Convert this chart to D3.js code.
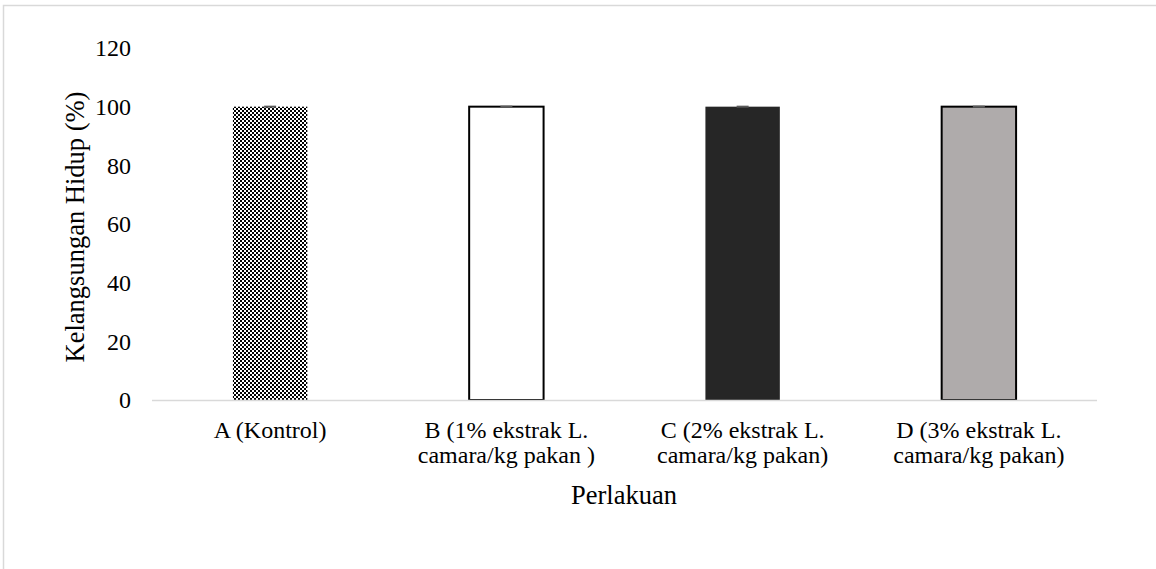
<!DOCTYPE html>
<html><head><meta charset="utf-8">
<script src="https://cdn.jsdelivr.net/npm/d3@7"></script>
<style>body{margin:0;background:#fff}svg{display:block}</style>
</head><body><svg id="c" width="1156" height="569"></svg>
<script>
const categories = ["A (Kontrol)", "B (1% ekstrak L.|camara/kg pakan )", "C (2% ekstrak L.|camara/kg pakan)", "D (3% ekstrak L.|camara/kg pakan)"];
const values = [100, 100, 100, 100];
const errors = [0, 0, 0, 0];
const yTicks = [0, 20, 40, 60, 80, 100, 120];
const fills = ["url(#checker)", "#ffffff", "#262626", "#afabab"];
const strokes = ["none", "#000", "none", "#000"];
const FONT = '"Liberation Serif"';
const FS = 24;
const TFS = 26.5;

const svg = d3.select("#c");
const defs = svg.append("defs");
const pat = defs.append("pattern").attr("id","checker").attr("width",4).attr("height",4).attr("patternUnits","userSpaceOnUse");
pat.append("rect").attr("width",4).attr("height",4).attr("fill","#fff");
pat.append("rect").attr("x",0).attr("y",0).attr("width",2).attr("height",2).attr("fill","#000");
pat.append("rect").attr("x",2).attr("y",2).attr("width",2).attr("height",2).attr("fill","#000");

svg.append("rect").attr("x",3.5).attr("y",5.5).attr("width",1200).attr("height",700)
  .attr("fill","none").attr("stroke","#d9d9d9").attr("stroke-width",1.5);

const x = d3.scaleBand().domain(categories).range([152, 1097]).paddingInner(0.685).paddingOuter(0.3425);
const y = d3.scaleLinear().domain([0, 120]).range([400, 48]);

const ya = svg.append("g").attr("transform","translate(131,0)")
  .call(d3.axisLeft(y).tickValues(yTicks).tickSize(0).tickPadding(0));
ya.attr("font-family", null).attr("font-size", null);
ya.select(".domain").remove();
ya.selectAll("text").style("font-family",FONT).style("font-size",FS+"px").attr("fill","#000").attr("dy","0.33em");

svg.selectAll("rect.bar").data(categories).join("rect").attr("class","bar")
  .attr("x", d => x(d)).attr("width", x.bandwidth())
  .attr("y", (d,i) => y(values[i])).attr("height", (d,i) => y(0) - y(values[i]))
  .attr("fill", (d,i) => fills[i]).attr("stroke", (d,i) => strokes[i]).attr("stroke-width", 2);

svg.selectAll("g.err").data(categories).join("g").attr("class","err").each(function(d,i){
  const g = d3.select(this), cx = x(d) + x.bandwidth()/2;
  g.append("line").attr("x1",cx).attr("x2",cx).attr("y1",y(values[i]+errors[i])).attr("y2",y(values[i]-errors[i])).attr("stroke","#595959").attr("stroke-width",1.5);
  g.append("line").attr("x1",cx-6).attr("x2",cx+6).attr("y1",y(values[i]+errors[i])).attr("y2",y(values[i]+errors[i])).attr("stroke","#595959").attr("stroke-width",2);
});

svg.append("line").attr("x1",152).attr("x2",1097).attr("y1",400.5).attr("y2",400.5).attr("stroke","#d9d9d9").attr("stroke-width",1.5);

svg.selectAll("text.xl").data(categories).join("text").attr("class","xl")
  .attr("x", d => x(d) + x.bandwidth()/2).attr("y", 438).attr("text-anchor","middle")
  .style("font-family",FONT).style("font-size",FS+"px").attr("fill","#000")
  .each(function(d){
    const parts = d.split("|");
    d3.select(this).selectAll("tspan").data(parts).join("tspan")
      .attr("x", x(d) + x.bandwidth()/2).attr("dy",(p,j)=> j===0?0:25).text(p=>p);
  });

svg.append("text").attr("x",624).attr("y",504).attr("text-anchor","middle")
  .style("font-family",FONT).style("font-size",TFS+"px").attr("fill","#000").text("Perlakuan");
svg.append("text").attr("transform","translate(84,227) rotate(-90)").attr("text-anchor","middle")
  .style("font-family",FONT).style("font-size",TFS+"px").attr("fill","#000").text("Kelangsungan Hidup (%)");
</script></body></html>
